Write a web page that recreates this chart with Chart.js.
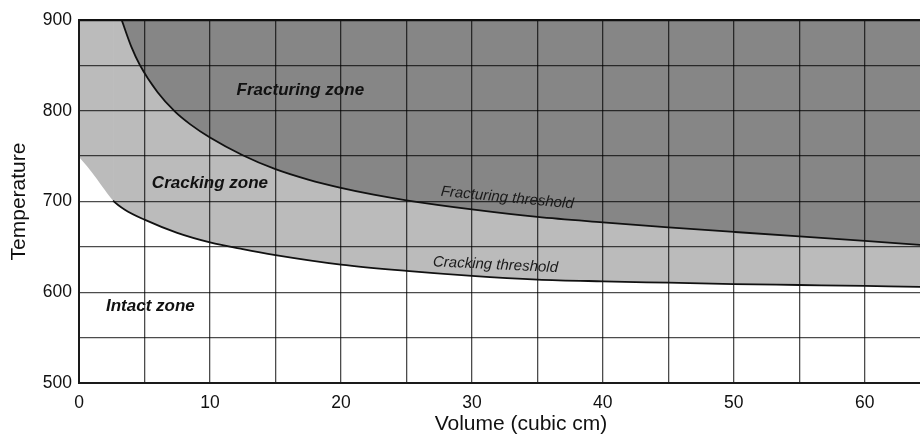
<!DOCTYPE html>
<html><head><meta charset="utf-8">
<script src="https://cdn.jsdelivr.net/npm/chart.js@4"></script>
<style>html,body{margin:0;padding:0;background:#fff;overflow:hidden}
#wrap{position:relative;width:968px;height:437px}</style>
</head><body><div id="wrap"><canvas id="c"></canvas></div>
<script>
// Cracking threshold (lower boundary of the cracking zone)
const crackVolume = [0, 0.6, 1.35, 2, 2.6, 3.5, 5, 7.5, 10, 12.5, 15, 20, 25, 30, 35, 40, 45, 50, 55, 60, 64.2, 67.5];
const crackTemp   = [749, 739, 725, 712, 701, 691, 680, 665.5, 655, 647.5, 641, 630.5, 623.5, 618, 614, 612, 610.5, 609, 608, 607, 606, 605.5];
// Fracturing threshold (lower boundary of the fracturing zone)
const fracVolume  = [3.26, 4, 4.66, 6, 7.33, 8.5, 10, 12.5, 15, 17.5, 20, 22.5, 25, 30, 35, 40, 45, 50, 55, 60, 64.2, 67.5];
const fracTemp    = [900, 870.4, 850, 820.4, 799, 785, 770.5, 751, 735.6, 724.1, 715, 707.5, 701.3, 691.3, 683, 677, 671.5, 666.5, 661.5, 656.5, 652.3, 649];
const crackLineStart = 2.6; // the drawn cracking-threshold line starts here
const xTickLabels = [0, 10, 20, 30, 40, 50, 60];
const yTickLabels = [500, 600, 700, 800, 900];
const zoneNames = ['Fracturing zone', 'Cracking zone', 'Intact zone'];
const thresholdNames = ['Fracturing threshold', 'Cracking threshold'];

const FONT = '"Liberation Sans", Arial, sans-serif';
const annotations = [
  {text: zoneNames[0], x: 16.9, y: 823, font: 'italic bold 17px ' + FONT, rot: 0, color: '#111'},
  {text: zoneNames[1], x: 10.0, y: 720.5, font: 'italic bold 17px ' + FONT, rot: 0, color: '#111'},
  {text: zoneNames[2], x: 5.45, y: 585, font: 'italic bold 17px ' + FONT, rot: 0, color: '#111'},
  {text: thresholdNames[0], x: 32.7, y: 704, font: 'italic 15px ' + FONT, rot: 5.5, color: '#1a1a1a'},
  {text: thresholdNames[1], x: 31.8, y: 630, font: 'italic 15px ' + FONT, rot: 2.8, color: '#1a1a1a'}
];

const annotationPlugin = {
  id: 'zoneText',
  afterDatasetsDraw(chart) {
    const {ctx, scales: {x, y}} = chart;
    ctx.save();
    annotations.forEach(a => {
      ctx.save();
      ctx.translate(x.getPixelForValue(a.x), y.getPixelForValue(a.y));
      ctx.rotate(a.rot * Math.PI / 180);
      ctx.font = a.font;
      ctx.fillStyle = a.color;
      ctx.textAlign = 'center';
      ctx.textBaseline = 'middle';
      ctx.fillText(a.text, 0, 0);
      ctx.restore();
    });
    ctx.restore();
  }
};

const gridColor = 'rgba(0,0,0,0.7)';

new Chart(document.getElementById('c'), {
  type: 'line',
  data: {
    datasets: [
      {
        label: thresholdNames[0],
        data: fracVolume.map((v, i) => ({x: v, y: fracTemp[i]})),
        borderColor: '#111',
        borderWidth: 1.8,
        backgroundColor: '#868686',
        fill: 'end',
        pointRadius: 0,
        cubicInterpolationMode: 'monotone'
      },
      {
        label: thresholdNames[1],
        data: crackVolume.map((v, i) => ({x: v, y: crackTemp[i]})),
        borderColor: '#111',
        borderWidth: 1.8,
        backgroundColor: '#bbbbbb',
        fill: 'end',
        pointRadius: 0,
        cubicInterpolationMode: 'monotone',
        segment: {
          borderColor: c => c.p0.parsed.x < crackLineStart ? 'rgba(0,0,0,0)' : '#111'
        }
      }
    ]
  },
  options: {
    responsive: true,
    maintainAspectRatio: false,
    animation: false,
    layout: {padding: {top: 20, right: 5, left: 0, bottom: 0}},
    plugins: {
      legend: {display: false},
      tooltip: {enabled: false},
      filler: {drawTime: 'beforeDraw'}
    },
    scales: {
      x: {
        type: 'linear',
        min: 0,
        max: 67.5,
        afterBuildTicks: s => { const t = []; for (let v = 0; v <= 65; v += 5) t.push({value: v}); s.ticks = t; },
        afterFit: s => { s.height = 54; },
        border: {color: '#1a1a1a', width: 2},
        grid: {color: gridColor, lineWidth: 1.3, drawTicks: false},
        ticks: {
          autoSkip: false, maxRotation: 0, padding: 10, color: '#111',
          font: {family: FONT, size: 17.5},
          callback: v => xTickLabels.includes(v) ? String(v) : ''
        },
        title: {display: true, text: 'Volume (cubic cm)', color: '#111',
          font: {family: FONT, size: 21}, padding: {top: 0, bottom: 0}}
      },
      y: {
        type: 'linear',
        min: 500,
        max: 900,
        afterFit: s => { s.width = 79; },
        border: {color: '#1a1a1a', width: 2},
        grid: {
          color: c => c.tick && c.tick.value === 900 ? '#111' : gridColor,
          lineWidth: c => c.tick && c.tick.value === 900 ? 2.2 : 1.3,
          drawTicks: false
        },
        ticks: {
          stepSize: 50, padding: 7, color: '#111',
          font: {family: FONT, size: 17.5},
          callback: v => yTickLabels.includes(v) ? String(v) : ''
        },
        title: {display: true, text: 'Temperature', color: '#111',
          font: {family: FONT, size: 21}, padding: {top: 7, bottom: 0}}
      }
    }
  },
  plugins: [annotationPlugin]
});
</script>
</body></html>
